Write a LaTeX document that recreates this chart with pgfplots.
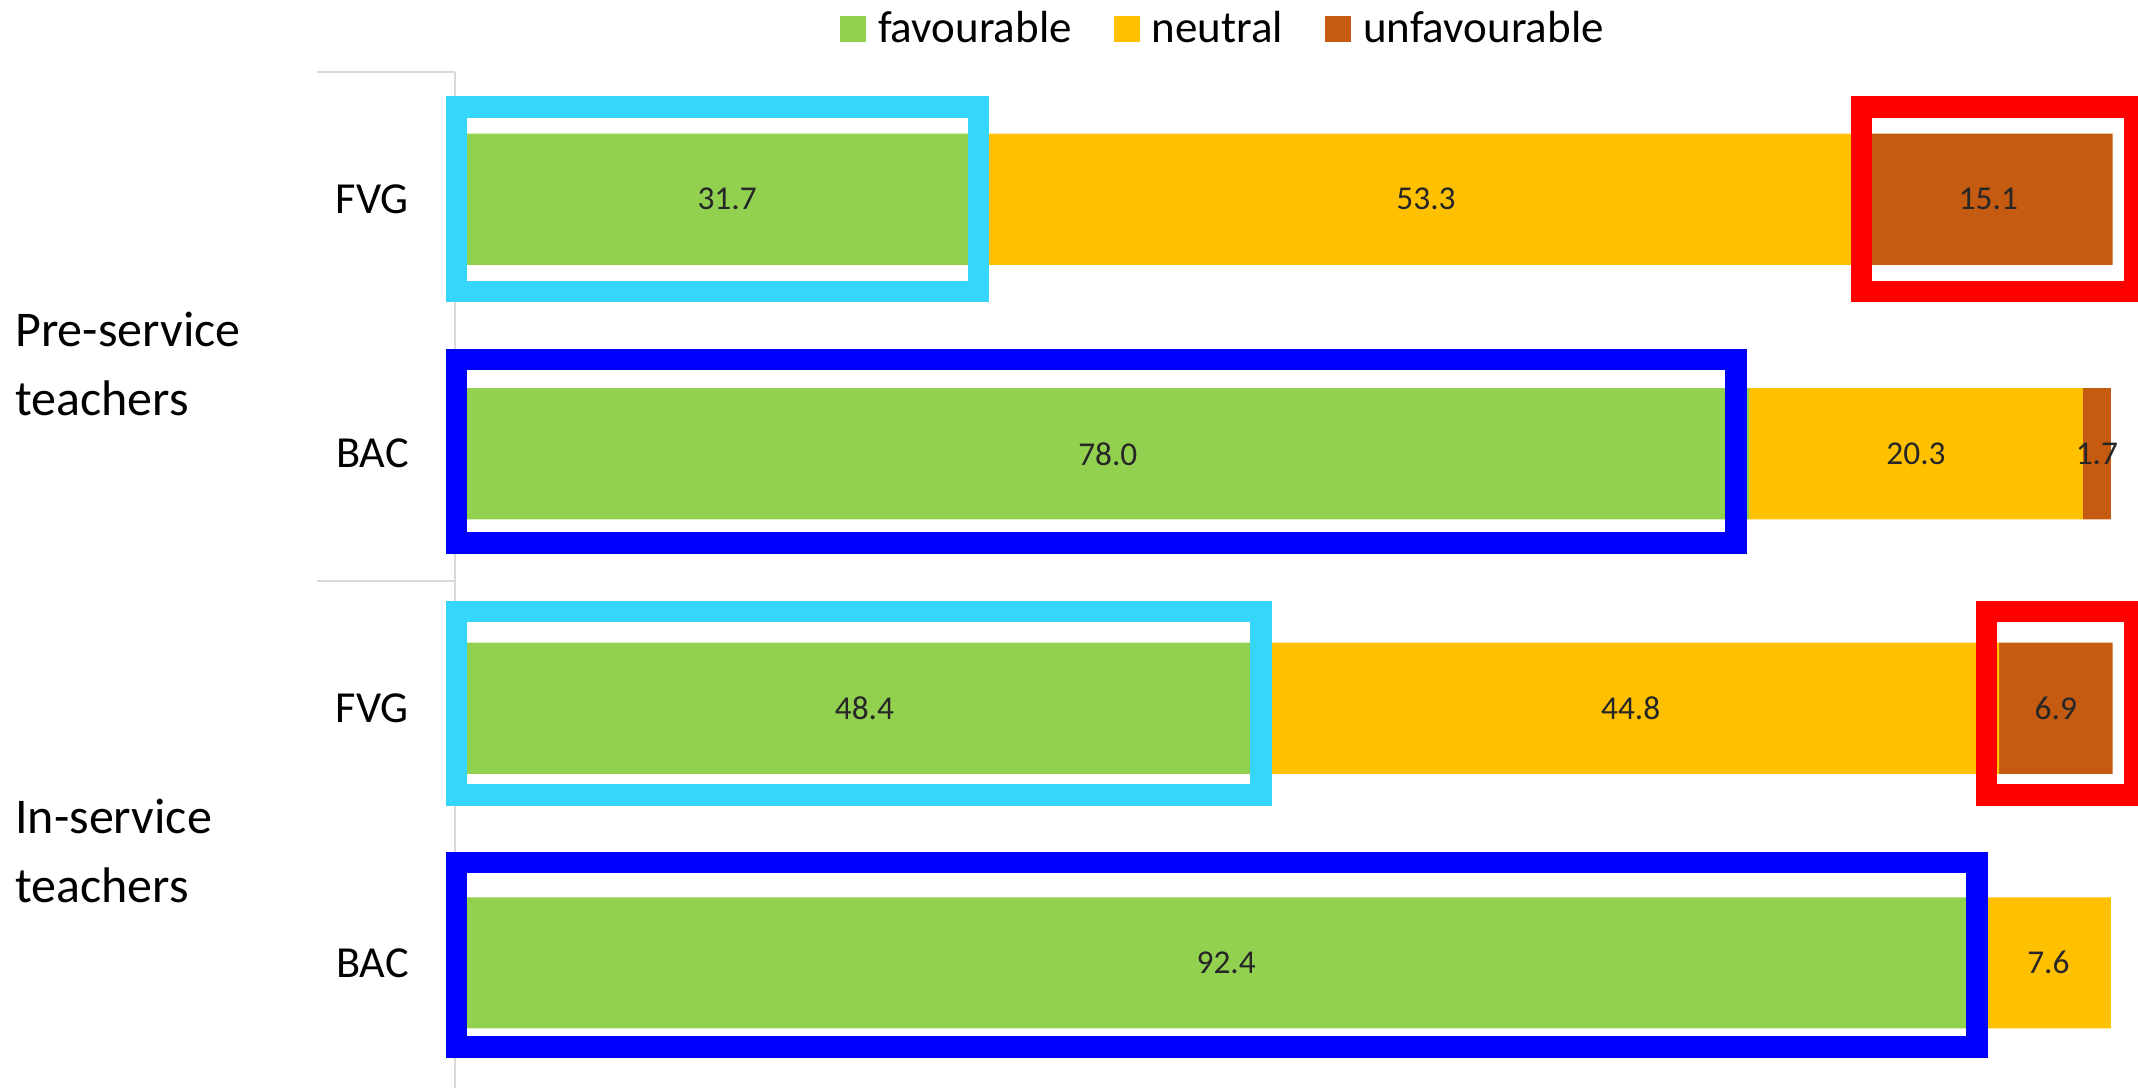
\documentclass[border=0pt]{standalone}
\usepackage{fontspec}
\setmainfont{Carlito}
\usepackage{pgfplots}
\usepackage{pgfplotstable}
\pgfplotsset{compat=1.18}
\definecolor{favc}{HTML}{92D050}
\definecolor{neuc}{HTML}{FFC000}
\definecolor{unfc}{HTML}{C55A11}
\definecolor{cyanbox}{HTML}{35D6FA}
\definecolor{bluebox}{HTML}{0000FF}
\definecolor{redbox}{HTML}{FF0000}
\definecolor{axisgray}{HTML}{D9D9D9}

\pgfplotstableread{
pos fav neu
3 31.7 53.3
2 78.0 20.3
1 48.4 44.8
0 92.4 7.6
}\maindata
\pgfplotstableread{
pos unf
3 15.1
2 1.7
1 6.9
}\unfdata

\begin{document}
\begin{tikzpicture}
\path[use as bounding box] (-136.4pt,0pt) rectangle (505pt,326.25pt);
\begin{axis}[
  xbar stacked,
  scale only axis,
  width=505pt, height=304.65pt,
  xmin=-0.72, xmax=101.65, ymin=-0.49, ymax=3.5,
  bar width=0.515,
  axis x line=none,
  axis y line*=left,
  y axis line style={draw=axisgray, line width=0.6pt},
  ytick={0,1,2,3},
  yticklabels={BAC,FVG,BAC,FVG},
  ytick style={draw=none},
  yticklabel style={font=\fontsize{13.3}{15}\selectfont, inner sep=0pt, anchor=east, xshift=-13.6pt},
  point meta=explicit symbolic,
  nodes near coords={\pgfmathprintnumber[fixed,fixed zerofill,precision=1,assume math mode=true]{\pgfplotspointmeta}},
  every node near coord/.append style={anchor=center, font=\fontsize{10}{12}\selectfont, text=black!85},
  legend columns=-1,
  legend style={at={(axis description cs:0.4558,1.0424)}, anchor=center, draw=none, fill=none,
    font=\fontsize{13.5}{15}\selectfont,
    nodes={inner sep=0pt},
    /tikz/every odd column/.append style={column sep=3.6pt},
    /tikz/every even column/.append style={column sep=12.6pt}},
  legend image code/.code={\fill[#1] (0pt,-3.85pt) rectangle (7.8pt,3.85pt);},
]
\addplot[fill=favc, draw=none] table[x=fav, y=pos, meta=fav]{\maindata};
\addlegendentry{favourable}
\addplot[fill=neuc, draw=none] table[x=neu, y=pos, meta=neu]{\maindata};
\addlegendentry{neutral}
\addplot[fill=unfc, draw=none] table[x=unf, y=pos, meta=unf]{\unfdata};
\addlegendentry{unfavourable}

\coordinate (a1) at (axis cs:-0.62,2.638); \coordinate (b1) at (axis cs:31.12,3.362);
\coordinate (a2) at (axis cs:84.82,2.638); \coordinate (b2) at (axis cs:101.43,3.362);
\coordinate (a3) at (axis cs:-0.62,1.649); \coordinate (b3) at (axis cs:77.2,2.371);
\coordinate (a4) at (axis cs:-0.62,0.659); \coordinate (b4) at (axis cs:48.31,1.381);
\coordinate (a5) at (axis cs:92.43,0.659); \coordinate (b5) at (axis cs:101.43,1.381);
\coordinate (a6) at (axis cs:-0.62,-0.331); \coordinate (b6) at (axis cs:91.85,0.394);
\end{axis}
\begin{scope}
\clip (-136.4pt,0pt) rectangle (505pt,326.25pt);
\draw[cyanbox, line width=6.4pt] (a1) rectangle (b1);
\draw[redbox, line width=6.4pt] (a2) rectangle (b2);
\draw[bluebox, line width=6.4pt] (a3) rectangle (b3);
\draw[cyanbox, line width=6.4pt] (a4) rectangle (b4);
\draw[redbox, line width=6.4pt] (a5) rectangle (b5);
\draw[bluebox, line width=6.4pt] (a6) rectangle (b6);
\end{scope}
\draw[axisgray, line width=0.6pt] (0pt,304.65pt) -- (-41.3pt,304.65pt);
\draw[axisgray, line width=0.6pt] (0pt,151.95pt) -- (-41.3pt,151.95pt);
\begin{scope}[every node/.style={anchor=base west, inner sep=0pt, font=\fontsize{15}{18}\selectfont}]
\node at (-132pt,222.2pt) {Pre-service};
\node at (-132pt,201.45pt) {teachers};
\node at (-132pt,76.1pt) {In-service};
\node at (-132pt,55.35pt) {teachers};
\end{scope}
\end{tikzpicture}
\end{document}
